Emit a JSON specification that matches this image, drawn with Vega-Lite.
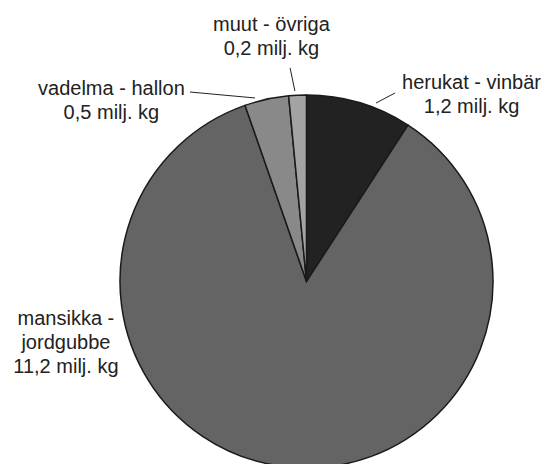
{
  "$schema": "https://vega.github.io/schema/vega-lite/v6.json",
  "autosize": "none",
  "width": 373,
  "height": 373,
  "padding": {"left": 120, "top": 95, "right": 56, "bottom": 0},
  "background": "white",
  "config": {"view": {"stroke": null}},
  "datasets": {
    "slices": [
      {"category": "herukat - vinbär", "value": 1.2, "ord": 1},
      {"category": "mansikka - jordgubbe", "value": 11.2, "ord": 2},
      {"category": "vadelma - hallon", "value": 0.5, "ord": 3},
      {"category": "muut - övriga", "value": 0.2, "ord": 4}
    ],
    "labels": [
      {"label": "herukat - vinbär\n1,2 milj. kg", "lx": 0.885, "ly": 1.064},
      {"label": "mansikka -\njordgubbe\n11,2 milj. kg", "lx": -1.29, "ly": -0.201},
      {"label": "vadelma - hallon\n0,5 milj. kg", "lx": -1.046, "ly": 1.032},
      {"label": "muut - övriga\n0,2 milj. kg", "lx": -0.188, "ly": 1.375}
    ],
    "leaders": [
      {"x1": 0.373, "y1": 0.957, "x2": 0.475, "y2": 1.011},
      {"x1": -0.062, "y1": 1.021, "x2": -0.088, "y2": 1.145},
      {"x1": -0.276, "y1": 0.984, "x2": -0.625, "y2": 1.016}
    ]
  },
  "layer": [
    {
      "data": {"name": "slices"},
      "mark": {"type": "arc", "stroke": "#1a1a1a", "strokeWidth": 1.5},
      "encoding": {
        "theta": {"field": "value", "type": "quantitative", "stack": true},
        "order": {"field": "ord", "type": "quantitative"},
        "color": {
          "field": "category",
          "type": "nominal",
          "scale": {
            "domain": ["herukat - vinbär", "mansikka - jordgubbe", "vadelma - hallon", "muut - övriga"],
            "range": ["#222222", "#646464", "#898989", "#a3a3a3"]
          },
          "legend": null
        }
      }
    },
    {
      "data": {"name": "leaders"},
      "mark": {"type": "rule", "stroke": "#222222", "strokeWidth": 1},
      "encoding": {
        "x": {"field": "x1", "type": "quantitative", "scale": {"domain": [-1, 1], "nice": false, "zero": false}, "axis": null},
        "y": {"field": "y1", "type": "quantitative", "scale": {"domain": [-1, 1], "nice": false, "zero": false}, "axis": null},
        "x2": {"field": "x2"},
        "y2": {"field": "y2"}
      }
    },
    {
      "data": {"name": "labels"},
      "mark": {
        "type": "text",
        "font": "Liberation Sans",
        "fontSize": 20,
        "lineHeight": 24,
        "lineBreak": "\n",
        "align": "center",
        "baseline": "middle",
        "color": "#222222"
      },
      "encoding": {
        "x": {"field": "lx", "type": "quantitative", "scale": {"domain": [-1, 1], "nice": false, "zero": false}, "axis": null},
        "y": {"field": "ly", "type": "quantitative", "scale": {"domain": [-1, 1], "nice": false, "zero": false}, "axis": null},
        "text": {"field": "label"}
      }
    }
  ]
}
